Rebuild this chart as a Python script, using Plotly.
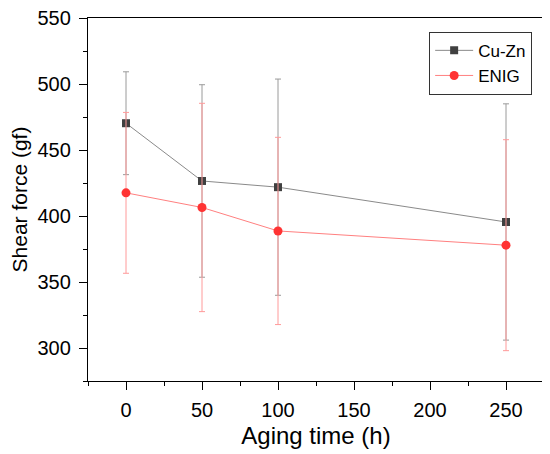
import plotly.graph_objects as go

# aging time (h)
aging_time = [0, 50, 100, 250]

# shear force means and error (gf)
cuzn_force = [470.5, 426.7, 422.0, 395.6]
cuzn_err = [39, 73, 82, 89.6]
enig_force = [417.7, 406.6, 388.8, 378.0]
enig_err = [61, 79, 71, 80]

font_family = "Liberation Sans, Arial, sans-serif"

fig = go.Figure()

fig.add_trace(go.Scatter(
    x=aging_time, y=cuzn_force, name="Cu-Zn",
    mode="lines+markers",
    line=dict(color="#8a8a8a", width=1),
    marker=dict(symbol="square", size=8, color="#404040"),
    error_y=dict(type="data", array=cuzn_err, visible=True,
                 color="#9a9a9a", thickness=1, width=3),
))

fig.add_trace(go.Scatter(
    x=aging_time, y=enig_force, name="ENIG",
    mode="lines+markers",
    line=dict(color="#ff8080", width=1),
    marker=dict(symbol="circle", size=9, color="#ff3333"),
    error_y=dict(type="data", array=enig_err, visible=True,
                 color="#ff9a9a", thickness=1, width=3),
))

axis_common = dict(
    showline=True, linecolor="black", linewidth=1.3, mirror=True,
    ticks="outside", ticklen=8, tickwidth=1, tickcolor="black",
    showgrid=False, zeroline=False, automargin=False,
    ticklabeloverflow="allow",
    tickfont=dict(size=20, color="black", family=font_family),
)

# page body adds an 8px margin, so the figure is drawn 8px smaller
fig.update_layout(
    width=542, height=446,
    margin=dict(l=80, r=6, t=10, b=73),
    paper_bgcolor="white", plot_bgcolor="white",
    font=dict(family=font_family, color="black"),
    showlegend=True,
    legend=dict(
        x=0.974, y=0.962, xanchor="right", yanchor="top",
        bordercolor="#333333", borderwidth=1, bgcolor="white",
        font=dict(size=17, family=font_family, color="black"),
        tracegroupgap=0, itemwidth=38,
    ),
    xaxis=dict(
        range=[-25, 275], tick0=0, dtick=50, ticklabelstandoff=3,
        title=dict(text="Aging time (h)", font=dict(size=24), standoff=7),
        minor=dict(ticks="outside", ticklen=4, tickwidth=1,
                   tickcolor="black", dtick=25, tick0=0),
        **axis_common,
    ),
    yaxis=dict(
        range=[275, 550.3], tick0=300, dtick=50, ticklabelstandoff=4,
        title=dict(text="Shear force (gf)", font=dict(size=21), standoff=18),
        minor=dict(ticks="outside", ticklen=4, tickwidth=1,
                   tickcolor="black", dtick=25, tick0=300),
        **axis_common,
    ),
)

fig.write_html("out.html")
